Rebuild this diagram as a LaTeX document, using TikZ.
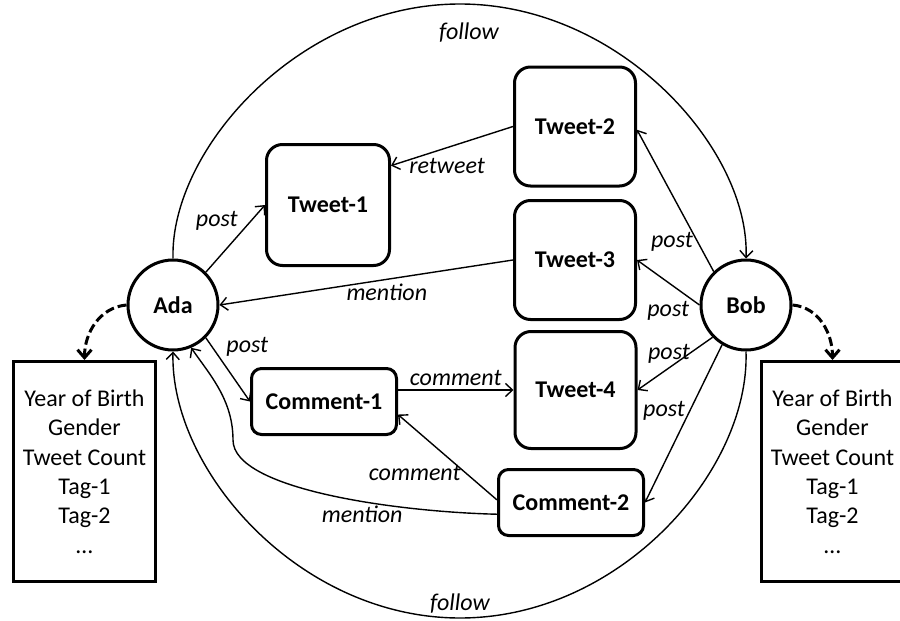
\documentclass[tikz,border=0pt]{standalone}
\usepackage{fontspec}
\setmainfont{Carlito}
\usetikzlibrary{arrows.meta}
\newcommand\figfont{\fontsize{12}{14.7}\selectfont}
\begin{document}
\begin{tikzpicture}[x=0.5pt,y=-0.5pt,
  user/.style={draw,circle,line width=1.5pt,minimum size=45pt,inner sep=0pt,font=\figfont\bfseries},
  tweet/.style={draw,rounded corners=8pt,line width=1.5pt,minimum width=60.5pt,minimum height=59.5pt,font=\figfont\bfseries},
  comm/.style={draw,rounded corners=5pt,line width=1.5pt,minimum width=72.5pt,minimum height=33pt,font=\figfont\bfseries},
  info/.style={draw,line width=1.5pt,minimum width=71pt,minimum height=110pt,align=center,font=\figfont},
  rel/.style={line width=0.7pt,-{Straight Barb[length=3.5pt,width=6.5pt]}},
  lbl/.style={font=\figfont\itshape,inner sep=2pt},
  attr/.style={line width=1.5pt,dash pattern=on 4.5pt off 2pt,-{Straight Barb[length=4pt,width=7pt]}}]
  \useasboundingbox (0,0) rectangle (900,621);
  \node[user] (ada) at (173,305) {Ada};
  \node[user] (bob) at (746,305) {Bob};
  \node[tweet,minimum width=61.5pt,minimum height=60.5pt] (tweetA) at (328,205) {Tweet-1};
  \node[tweet] (tweetB) at (575,126.5) {Tweet-2};
  \node[tweet] (tweetC) at (575,260) {Tweet-3};
  \node[tweet,minimum height=58.5pt] (tweetD) at (575.5,390) {Tweet-4};
  \node[comm] (commentA) at (324,401.5) {Comment-1};
  \node[comm] (commentB) at (571,502.5) {Comment-2};
  \node[info] (infoA) at (84.5,471.5) {Year of Birth\\Gender\\Tweet Count\\Tag-1\\Tag-2\\…};
  \node[info] (infoB) at (832.5,471.5) {Year of Birth\\Gender\\Tweet Count\\Tag-1\\Tag-2\\…};

  \draw[rel] (ada.north) .. controls (170,150) and (299,4) .. (460,4)
    node[lbl,below=7pt,xshift=4.5pt] {follow}
    .. controls (621,4) and (750,150) .. (bob.north);
  \draw[rel] (bob.south) .. controls (750,470) and (621,618) .. (460,618)
    node[lbl,above] {follow}
    .. controls (299,618) and (170,470) .. (ada.south);

  \draw[rel] (ada.45) -- node[lbl,pos=.55,above left,xshift=2pt] {post} (tweetA.west);
  \draw[rel] (tweetB.west) -- node[lbl,pos=.54,below=3pt] {retweet} (tweetA.32);
  \draw[rel] (tweetC.west) -- node[lbl,pos=.43,below] {mention} (ada.east);
  \draw[rel] (ada.-45) -- node[lbl,pos=.36,above right] {post} (commentA.west);
  \draw[rel] (commentA.east |- tweetD.west) -- node[lbl,above] {comment} (tweetD.west);
  \draw[rel] (commentB.178) -- node[lbl,pos=.32,left] {comment} (commentA.-10);
  \draw[rel] (commentB.189) .. controls (400,512) and (233,490) .. (233,440)
    node[lbl,pos=.4,below] {mention}
    .. controls (233,400) and (210,375) .. (ada.-67);

  \draw[rel] (bob.134) -- node[lbl,pos=.21,left] {post} (tweetB.-3);
  \draw[rel] (bob.west) -- node[lbl,pos=.5,below=7pt] {post} (tweetC.east);
  \draw[rel] (bob.-136) -- node[lbl,pos=.58,above] {post} (tweetD.east);
  \draw[rel] (bob.-121) -- node[lbl,pos=.42,left] {post} (commentB.east);

  \draw[attr] (ada.west) to[out=185,in=90] (infoA.north);
  \draw[attr] (bob.east) to[out=-5,in=90] (infoB.north);
\end{tikzpicture}
\end{document}
